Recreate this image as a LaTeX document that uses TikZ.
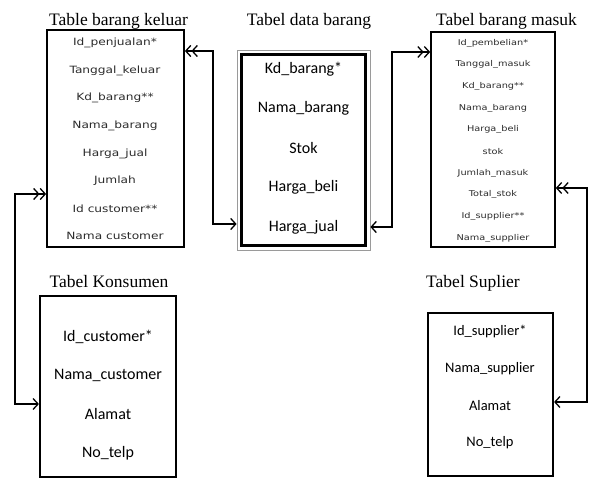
\documentclass[tikz,border=0pt]{standalone}
\usepackage{fontspec}
\setmainfont{Liberation Serif}
\newfontfamily\calibri{Carlito}
\newfontfamily\verdana[FakeStretch=1.22]{DejaVu Sans}
\usetikzlibrary{positioning,arrows.meta}
\definecolor{ERGray}{HTML}{9A9A9A}
\definecolor{ERText}{HTML}{2B2B2B}

\begin{document}
\begin{tikzpicture}[x=1pt,y=-1pt,
    ttl/.style={anchor=base,font=\fontsize{17.5}{20}\selectfont},
    tbl/.style={draw,line width=#1,inner sep=0pt},
    rowbig/.style={font=\calibri\fontsize{16}{18}\selectfont,inner sep=0pt},
    rowsup/.style={font=\calibri\fontsize{14.5}{17}\selectfont,inner sep=0pt},
    rowk/.style={font=\verdana\fontsize{10}{12}\selectfont,text=ERText,inner sep=0pt},
    rowm/.style={font=\verdana\fontsize{8}{10}\selectfont,text=ERText,inner sep=0pt},
    dbl/.tip={Straight Barb[length=5pt,width=11pt]Straight Barb[length=5pt,width=11pt]},
    sgl/.tip={Straight Barb[length=5pt,width=11pt]},
    link/.style={line width=1.3pt}]
    \useasboundingbox (0,0) rectangle (590,479);

    % tables
    \node[tbl=1.8pt, minimum width=137pt, minimum height=217pt] (keluar) at (115.5,138.5) {};
    \node[tbl=0.8pt, draw=ERGray, minimum width=133pt, minimum height=200pt] (dataout) at (303.5,150) {};
    \node[tbl=3pt, minimum width=124pt, minimum height=191pt] (data) at (303.5,150) {};
    \node[tbl=1.6pt, minimum width=124pt, minimum height=215pt] (masuk) at (493,139.5) {};
    \node[tbl=2.2pt, minimum width=136pt, minimum height=181pt] (konsumen) at (108,386.5) {};
    \node[tbl=2.2pt, minimum width=125pt, minimum height=163pt] (suplier) at (490.5,394.5) {};

    % titles
    \node[ttl] (tkeluar) at (118.5,25) {Table barang keluar};
    \node[ttl] (tdata) at (309,25) {Tabel data barang};
    \node[ttl] (tmasuk) at (506.5,25) {Tabel barang masuk};
    \node[ttl] (tkonsumen) at (109,287) {Tabel Konsumen};
    \node[ttl] (tsuplier) at (473,287) {Tabel Suplier};

    % rows
    \foreach \t [count=\i] in {Id\_penjualan*,Tanggal\_keluar,Kd\_barang**,Nama\_barang,Harga\_jual,Jumlah,Id customer**,Nama customer}
      \node[rowk] (k\i) at (115,{43+27.6*(\i-1)}) {\t};
    \foreach \t [count=\i] in {Kd\_barang*,Nama\_barang,Stok,Harga\_beli,Harga\_jual}
      \node[rowbig] (d\i) at (303.5,{69+39.5*(\i-1)}) {\t};
    \foreach \t [count=\i] in {Id\_pembelian*,Tanggal\_masuk,Kd\_barang**,Nama\_barang,Harga\_beli,stok,Jumlah\_masuk,Total\_stok,Id\_supplier**,Nama\_supplier}
      \node[rowm] (m\i) at (493,{43+21.7*(\i-1)}) {\t};
    \foreach \t [count=\i] in {Id\_customer*,Nama\_customer,Alamat,No\_telp}
      \node[rowbig] (c\i) at (108,{337+38.7*(\i-1)}) {\t};
    \foreach \t [count=\i] in {Id\_supplier*,Nama\_supplier,Alamat,No\_telp}
      \node[rowsup] (s\i) at (490,{332+37*(\i-1)}) {\t};

    % relations
    \draw[link, {dbl}-{sgl}] (keluar.east |- 0,51) -- (213,51) -- (213,224) -- (dataout.west |- 0,224);
    \draw[link, {sgl}-{dbl}] (dataout.east |- 0,227) -- (392,227) -- (392,52) -- (masuk.west |- 0,52);
    \draw[link, {dbl}-{sgl}] (masuk.east |- 0,188) -- (587,188) -- (587,402) -- (suplier.east |- 0,402);
    \draw[link, {dbl}-{sgl}] (keluar.west |- 0,194) -- (15,194) -- (15,404) -- (konsumen.west |- 0,404);
  \end{tikzpicture}
\end{document}
